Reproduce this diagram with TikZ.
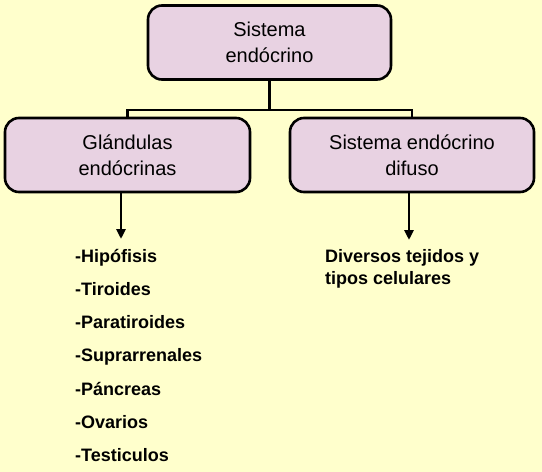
\documentclass[tikz,border=0pt]{standalone}
\usepackage{fontspec}
\setmainfont{Liberation Sans}
\usepackage{tikz}
\usetikzlibrary{arrows.meta, positioning, calc}
\definecolor{bgyellow}{RGB}{255, 255, 204}
\definecolor{boxlilac}{RGB}{232, 210, 226}

\begin{document}
\begin{tikzpicture}[x=1pt, y=-1pt,
    caja/.style={draw=black, fill=boxlilac, line width=2.6pt, rounded corners=14pt,
        minimum width=243pt, minimum height=74pt, align=center,
        font=\fontsize{20}{26}\selectfont},
    linea/.style={line width=2.8pt},
    flecha/.style={line width=2.8pt, -{Triangle[width=9pt, length=10pt]}},
    item/.style={anchor=base west, inner sep=0pt, font=\fontsize{18}{22}\selectfont\bfseries}]
% fondo
\fill[bgyellow] (0,0) rectangle (542,472);
\useasboundingbox (0,0) rectangle (542,472);

% cajas
\node[caja] (sistema) at (269.5,42.5) {Sistema\\endócrino};
\node[caja, minimum width=245pt] (glandulas) at (127.5,155) {Glándulas\\endócrinas};
\node[caja, minimum width=244pt] (difuso) at (412,155) {Sistema endócrino\\difuso};

% conectores
\coordinate (split) at (sistema.south |- 0,110);
\draw[linea] (sistema.south) -- (split);
\draw[linea] (glandulas.north) |- (split) -| (difuso.north);

% listas
\foreach \t [count=\i] in {-Hipófisis, -Tiroides, -Paratiroides, -Suprarrenales,
    -Páncreas, -Ovarios, -Testiculos}
    \node[item] (g\i) at (75, 262+33.3*\i-33.3) {\t};
\node[item, align=left] (diversos) at (325,284) {Diversos tejidos y\\tipos celulares};

\coordinate (izq) at (121,239);
\coordinate (der) at (409,240);
\draw[flecha] (glandulas.south -| izq) -- (izq);
\draw[flecha] (difuso.south -| der) -- (der);
\end{tikzpicture}
\end{document}
